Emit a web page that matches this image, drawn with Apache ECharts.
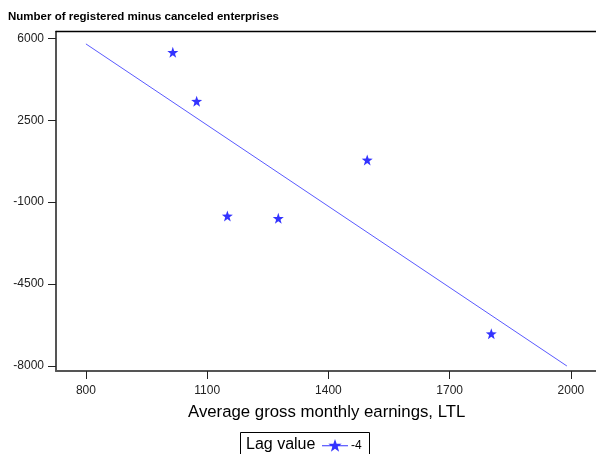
<!DOCTYPE html>
<html>
<head>
<meta charset="utf-8">
<script src="https://cdn.jsdelivr.net/npm/echarts@6/dist/echarts.min.js"></script>
<style>
  html, body { margin: 0; padding: 0; background: #fff; overflow: hidden; }
  #chart { width: 596px; height: 454px; }
</style>
</head>
<body>
<div id="chart"></div>
<script>
// Observed pairs: average gross monthly earnings (LTL) vs. registered minus canceled enterprises
const earnings = [1015, 1074, 1150, 1276, 1496, 1803];
const netEnterprises = [5400, 3310, -1590, -1690, 800, -6620];

// Straight trend line through the cloud, given by its two end points
const trendX = [800, 1990];
const trendY = [5760, -8000];

// Tick labels
const xTicks = [800, 1100, 1400, 1700, 2000];
const yTicks = [6000, 2500, -1000, -4500, -8000];

const titleText = 'Number of registered minus canceled enterprises';
const xTitle = 'Average gross monthly earnings, LTL';
const legendLabel = 'Lag value';
const lagName = '-4';

const STAR = 'path://M13 0 L14.65 4.73 L19.66 4.84 L15.66 7.87 L17.11 12.66 L13 9.8 L8.89 12.66 L10.34 7.87 L6.34 4.84 L11.35 4.73 Z';
const STAR_ON_LINE = STAR + ' M0 6.3 L26 6.3 L26 7.3 L0 7.3 Z';

const points = earnings.map((x, i) => [x, netEnterprises[i]]);
const trend = trendX.map((x, i) => [x, trendY[i]]);

const chart = echarts.init(document.getElementById('chart'), null, { renderer: 'canvas' });

const FONT = 'Liberation Sans, Arial, sans-serif';
const axisFont = { fontFamily: FONT, fontSize: 12, color: '#222', formatter: v => String(v) };

chart.setOption({
  backgroundColor: '#fff',
  animation: false,
  title: [{
    text: titleText,
    left: 8, top: 11, padding: 0,
    textStyle: { fontFamily: FONT, fontSize: 11.5, fontWeight: 'bold', color: '#000' }
  }],
  grid: {
    left: 56, top: 31.7, right: -2, bottom: 83,
    containLabel: false,
    outerBoundsMode: 'none',
    show: false
  },
  xAxis: [
    {
      type: 'value',
      min: 726, max: 2067,
      axisLine: { show: true, onZero: false, lineStyle: { color: '#555', width: 2 } },
      axisTick: { show: true, length: 8, customValues: xTicks, lineStyle: { color: '#222', width: 1 } },
      axisLabel: { show: true, margin: 14, customValues: xTicks, ...axisFont },
      splitLine: { show: false }
    },
    {
      // top frame of the plot area
      type: 'value',
      position: 'top',
      min: 726, max: 2067,
      axisLine: { show: true, onZero: false, lineStyle: { color: '#000', width: 1.3 } },
      axisTick: { show: false },
      axisLabel: { show: false },
      splitLine: { show: false }
    }
  ],
  yAxis: {
    type: 'value',
    min: -8214, max: 6282,
    axisLine: { show: true, onZero: false, lineStyle: { color: '#555', width: 2 } },
    axisTick: { show: true, length: 8, customValues: yTicks, lineStyle: { color: '#222', width: 1 } },
    axisLabel: { show: true, margin: 12, customValues: yTicks, ...axisFont },
    splitLine: { show: false }
  },
  legend: {
    left: 322, top: 439,
    itemWidth: 26, itemHeight: 13, itemGap: 4,
    padding: 0,
    data: [{ name: lagName, icon: STAR_ON_LINE }],
    textStyle: { fontFamily: FONT, fontSize: 12, color: '#000', padding: [0, 0, 0, -2] }
  },
  graphic: [
    {
      type: 'rect',
      shape: { x: 240.5, y: 432.5, width: 129, height: 40 },
      style: { fill: '#fff', stroke: '#000', lineWidth: 1 },
      z: -1, silent: true
    },
    {
      // the plot area stays open on the right side
      type: 'rect',
      shape: { x: 592, y: 33.5, width: 6, height: 336 },
      style: { fill: '#fff' },
      z: 100, silent: true
    },
    {
      type: 'text',
      left: 246, top: 437,
      style: { text: legendLabel, fontFamily: FONT, fontSize: 16, fill: '#000' }
    },
    {
      type: 'text',
      left: 188, top: 404,
      style: { text: xTitle, fontFamily: FONT, fontSize: 16.8, fill: '#000' }
    }
  ],
  series: [
    {
      name: 'trend',
      type: 'line',
      data: trend,
      showSymbol: false,
      symbol: 'none',
      lineStyle: { color: '#5a5aff', width: 1 },
      z: 2
    },
    {
      name: lagName,
      type: 'scatter',
      data: points,
      symbol: STAR,
      symbolSize: 11,
      itemStyle: { color: '#0000ff' },
      z: 3
    }
  ]
});
</script>
</body>
</html>
